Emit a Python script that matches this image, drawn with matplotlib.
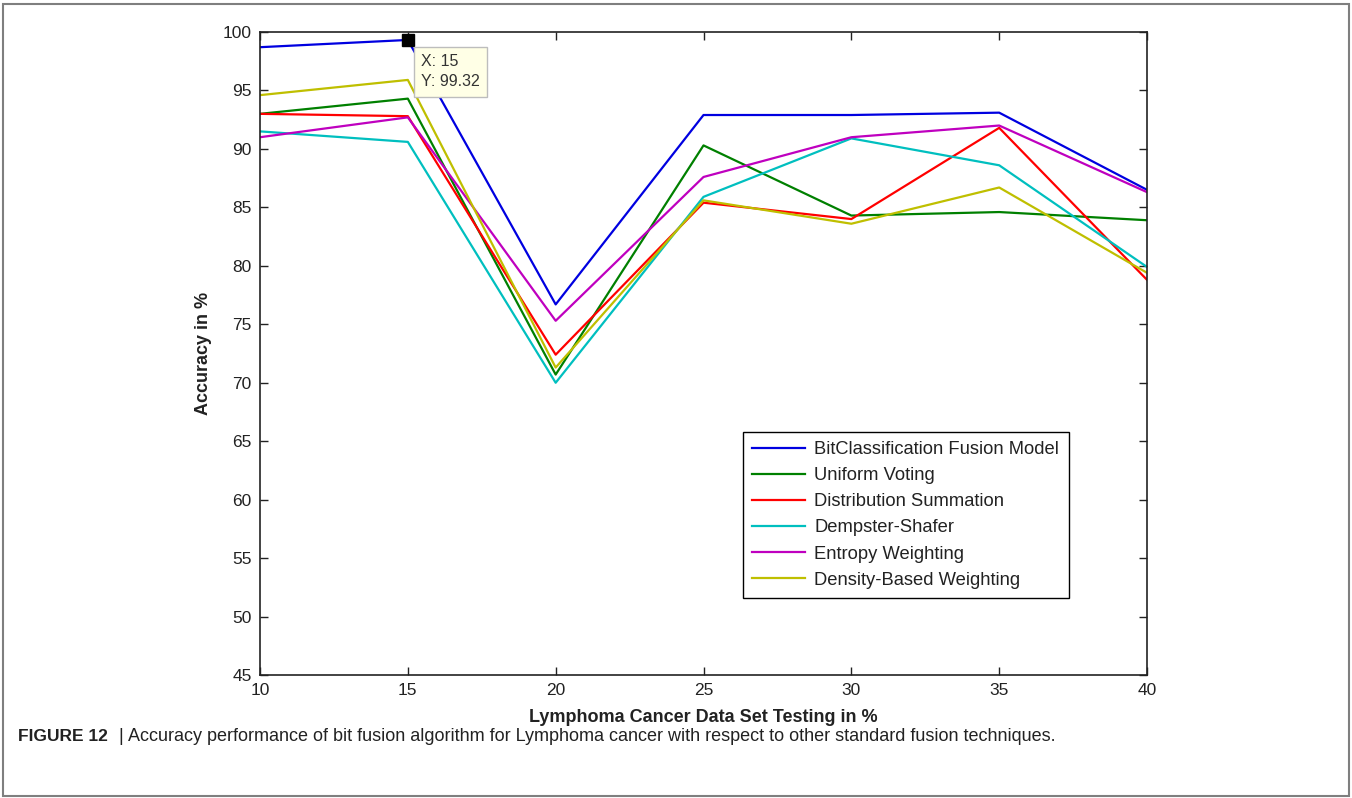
import matplotlib
matplotlib.use("Agg")
import matplotlib.pyplot as plt
from matplotlib.patches import Rectangle

# data
test_pct = [10, 15, 20, 25, 30, 35, 40]
bit_fusion = [98.7, 99.32, 76.7, 92.9, 92.9, 93.1, 86.5]
uniform_voting = [93.0, 94.3, 70.7, 90.3, 84.3, 84.6, 83.9]
dist_summation = [93.0, 92.8, 72.4, 85.4, 84.0, 91.8, 78.8]
dempster_shafer = [91.5, 90.6, 70.0, 85.9, 90.9, 88.6, 79.9]
entropy_weighting = [91.0, 92.7, 75.3, 87.6, 91.0, 92.0, 86.3]
density_weighting = [94.6, 95.9, 71.3, 85.6, 83.6, 86.7, 79.4]

series_names = ["BitClassification Fusion Model", "Uniform Voting",
                "Distribution Summation", "Dempster-Shafer",
                "Entropy Weighting", "Density-Based Weighting"]
series_colors = ["#0000e0", "#008000", "#ff0000", "#00bfbf", "#bf00bf", "#bfbf00"]
y_ticks = list(range(45, 101, 5))

plt.rcParams['font.family'] = ['Liberation Sans', 'DejaVu Sans']

fig = plt.figure(figsize=(13.52, 7.98), dpi=100)
ax = fig.add_axes([0.1923, 0.1541, 0.6561, 0.8058])

all_series = [bit_fusion, uniform_voting, dist_summation,
              dempster_shafer, entropy_weighting, density_weighting]
for vals, name, col in zip(all_series, series_names, series_colors):
    ax.plot(test_pct, vals, color=col, lw=1.6, label=name)

ax.set_xlim(10, 40)
ax.set_ylim(45, 100)
ax.set_xticks(test_pct)
ax.set_yticks(y_ticks)
ax.tick_params(direction='in', length=6, width=1, labelsize=12.5,
               top=True, right=True, pad=6, colors='#222222')
for sp in ax.spines.values():
    sp.set_linewidth(1.2)
    sp.set_color('#222222')

ax.set_xlabel("Lymphoma Cancer Data Set Testing in %", fontsize=13,
              fontweight='bold', labelpad=8, color='#222222')
ax.set_ylabel("Accuracy in %", fontsize=13, fontweight='bold', labelpad=8,
              color='#222222')

leg = ax.legend(loc='lower left', bbox_to_anchor=(0.5445, 0.1198),
                fontsize=13.2, fancybox=False, framealpha=1,
                edgecolor='black', handlelength=2.9, borderpad=0.5,
                labelspacing=0.5, handletextpad=0.5, borderaxespad=0)
leg.get_frame().set_linewidth(1.0)
for t in leg.get_texts():
    t.set_color('#222222')

# data tip at the peak of the fusion model
ax.plot([test_pct[1]], [bit_fusion[1]], marker='s', color='black',
        markersize=9, clip_on=False, zorder=5)
ax.annotate("X: %d\nY: %.2f" % (test_pct[1], bit_fusion[1]),
            xy=(test_pct[1], bit_fusion[1]), xytext=(13, -14),
            textcoords='offset pixels', va='top', ha='left', fontsize=11.5,
            color='#333333', linespacing=1.45,
            bbox=dict(boxstyle='square,pad=0.45', fc='#ffffe6', ec='#bdbdbd'),
            zorder=6)

# caption and outer frame
fig.text(0.0133, 0.0765, "FIGURE 12", fontsize=12.5, fontweight='bold',
         va='center', ha='left', color='#222222')
fig.text(0.0895, 0.0765, "|", fontsize=13, va='center', ha='center',
         color='#222222')
fig.text(0.0947, 0.0765, "Accuracy performance of bit fusion algorithm for Lymphoma "
         "cancer with respect to other standard fusion techniques.",
         fontsize=13, va='center', ha='left', color='#222222')
fig.patches.append(Rectangle((0.002, 0.003), 0.996, 0.992, transform=fig.transFigure,
                             fill=False, ec='#7f7f7f', lw=1.5))

fig.savefig("out.png", dpi=100)
